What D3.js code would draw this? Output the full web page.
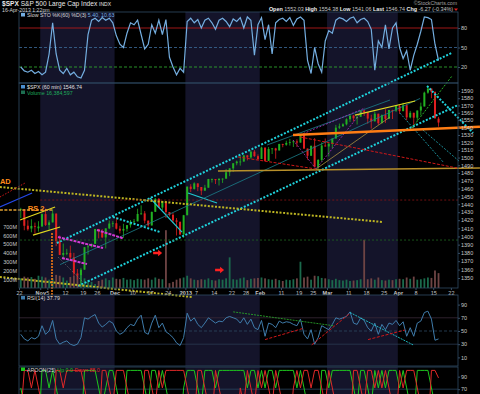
<!DOCTYPE html>
<html>
<head>
<meta charset="utf-8">
<script src="https://cdn.jsdelivr.net/npm/d3@7"></script>
<style>
  body { margin: 0; background: #000; }
  svg { display: block; }
  text { font-family: "Liberation Sans", Arial, sans-serif; }
</style>
</head>
<body>
<div id="chart"></div>
<script>
// daily bars, Oct 22 2012 .. Apr 16 2013 (trading day index 0..118)
var opens = [1433.2,1433.7,1413.2,1409.7,1412.9,1410.0,1412.2,1427.6,1414.0,1417.3,
  1428.3,1394.5,1377.6,1379.9,1380.0,1374.6,1355.4,1353.4,1359.9,1386.8,
  1387.8,1391.0,1409.2,1406.3,1398.8,1409.9,1415.9,1416.3,1409.5,1407.1,
  1409.4,1413.9,1418.1,1418.6,1427.8,1428.5,1419.5,1413.5,1430.5,1446.8,
  1435.8,1443.7,1430.2,1426.7,1419.8,1418.1,1402.4,1426.2,1462.4,1459.4,
  1466.5,1461.9,1457.2,1461.0,1472.1,1472.1,1470.7,1472.3,1472.6,1480.9,
  1485.9,1492.6,1494.8,1494.8,1502.9,1500.2,1507.8,1501.9,1498.1,1513.2,
  1495.7,1511.3,1512.1,1509.4,1517.9,1517.0,1519.4,1520.3,1521.4,1519.8,
  1530.9,1511.9,1502.4,1515.6,1487.9,1496.9,1516.0,1514.7,1518.2,1525.2,
  1539.8,1541.5,1544.3,1551.2,1556.2,1552.5,1554.5,1563.2,1560.7,1552.1,
  1548.3,1558.7,1545.8,1556.9,1551.7,1563.8,1562.9,1569.2,1562.2,1570.3,
  1553.7,1560.0,1553.3,1563.1,1568.6,1587.7,1593.4,1588.9,1552.0];
var highs = [1435.5,1433.7,1420.0,1421.1,1417.1,1418.8,1428.4,1434.3,1419.9,1433.4,
  1428.3,1401.2,1391.4,1384.9,1388.8,1380.1,1360.6,1362.0,1386.9,1389.8,
  1391.3,1409.2,1409.2,1409.0,1410.0,1419.7,1418.9,1423.7,1413.1,1415.6,
  1413.9,1420.3,1421.6,1434.3,1438.6,1431.4,1419.5,1430.7,1448.0,1447.8,
  1443.7,1443.7,1430.2,1429.4,1422.7,1418.1,1426.7,1462.4,1465.5,1467.9,
  1466.5,1461.9,1464.7,1472.3,1472.8,1472.1,1473.3,1473.0,1485.2,1485.9,
  1492.6,1496.1,1502.3,1503.3,1503.2,1509.3,1509.9,1504.2,1514.4,1513.2,
  1514.0,1512.5,1512.9,1518.3,1518.3,1522.3,1524.7,1523.1,1524.2,1530.9,
  1530.9,1511.9,1515.6,1525.8,1498.0,1520.1,1525.3,1520.0,1525.3,1543.5,
  1545.3,1545.8,1552.5,1556.3,1556.8,1556.4,1563.3,1563.6,1560.7,1557.3,
  1561.6,1558.7,1557.7,1564.9,1563.9,1564.1,1570.3,1570.6,1573.7,1571.5,
  1562.6,1560.0,1563.1,1573.9,1589.1,1597.4,1593.4,1588.9,1554.4];
var lows = [1422.8,1407.6,1407.1,1405.1,1403.3,1405.9,1412.2,1412.9,1408.1,1417.3,
  1388.1,1377.5,1373.0,1377.2,1370.8,1352.5,1348.1,1343.4,1359.9,1377.9,
  1386.4,1391.0,1397.7,1398.0,1385.4,1409.0,1411.6,1408.5,1403.6,1398.2,
  1405.9,1410.9,1415.6,1418.6,1426.8,1416.0,1411.9,1413.5,1430.5,1435.8,
  1432.8,1422.6,1424.7,1416.4,1401.1,1401.6,1398.1,1426.2,1455.5,1458.6,
  1456.6,1451.6,1457.2,1461.0,1467.6,1465.7,1463.8,1467.1,1472.6,1475.8,
  1481.2,1489.9,1489.5,1494.8,1496.3,1498.5,1501.0,1496.8,1498.1,1495.0,
  1495.7,1504.7,1498.5,1509.4,1513.6,1515.6,1515.9,1514.0,1514.1,1519.8,
  1511.4,1497.3,1502.4,1487.9,1485.0,1494.9,1514.5,1501.5,1512.3,1525.2,
  1538.1,1541.5,1542.9,1547.4,1548.2,1544.0,1554.5,1555.7,1545.1,1538.6,
  1548.3,1543.6,1545.8,1546.2,1551.7,1551.5,1561.1,1558.5,1562.2,1549.8,
  1552.5,1539.5,1548.6,1556.4,1568.6,1586.2,1580.0,1552.3,1541.1];
var closes = [1433.8,1413.1,1408.8,1412.9,1411.9,1412.2,1427.6,1414.2,1417.3,1428.4,
  1394.5,1377.5,1379.9,1380.0,1374.5,1355.5,1353.3,1359.9,1386.9,1387.8,
  1391.0,1409.2,1406.3,1398.9,1409.9,1415.9,1416.2,1409.5,1407.1,1409.3,
  1413.9,1418.1,1418.5,1427.8,1428.5,1419.5,1413.6,1430.4,1446.8,1435.8,
  1443.7,1430.2,1426.7,1419.8,1418.1,1402.4,1426.2,1462.4,1459.4,1466.5,
  1461.9,1457.2,1461.0,1472.1,1472.1,1470.7,1472.3,1472.6,1480.9,1485.9,
  1492.6,1494.8,1494.8,1502.9,1500.2,1507.8,1501.9,1498.1,1513.2,1495.7,
  1511.3,1512.1,1509.4,1517.9,1517.0,1519.4,1520.3,1521.4,1519.8,1530.9,
  1511.9,1502.4,1515.6,1487.9,1496.9,1516.0,1514.7,1518.2,1525.2,1539.8,
  1541.5,1544.3,1551.2,1556.2,1552.5,1554.5,1563.2,1560.7,1552.1,1548.3,
  1558.7,1545.8,1556.9,1551.7,1563.8,1562.9,1569.2,1562.2,1570.3,1553.7,
  1560.0,1553.3,1563.1,1568.6,1587.7,1593.4,1588.9,1552.4,1546.7];
// hourly volume level per day, millions
var volumes = [110,130,120,125,105,140,130,120,95,110,
  150,140,120,85,125,140,150,170,110,90,
  70,45,80,95,110,90,120,105,100,115,
  95,100,90,105,100,95,110,95,120,105,
  100,660,55,70,95,110,120,140,110,95,
  90,100,95,110,90,85,100,95,110,350,
  100,95,110,120,90,105,110,115,120,110,
  100,95,105,90,80,95,90,100,110,300,
  120,130,95,140,135,115,110,100,90,105,
  90,85,95,80,85,90,100,550,100,110,
  95,120,90,85,95,90,100,105,100,120,
  105,130,95,100,110,120,115,200,170];
var stoK = [20,14,12,15,10,13,8,12,40,88,
  40,15,10,18,8,12,5,3,15,70,
  92,95,90,96,92,95,88,68,55,50,
  72,88,85,92,70,48,55,85,72,92,
  70,93,35,20,8,18,12,90,95,88,
  93,80,92,95,88,78,92,95,90,82,
  94,90,96,80,97,92,38,85,96,62,
  85,40,88,93,95,90,96,84,94,97,
  92,30,10,50,25,12,60,76,72,92,
  96,94,90,95,97,88,93,95,90,78,
  15,60,50,85,48,80,88,50,33,45,
  15,38,55,75,97,96,93,55,30];
var rsi = [45,38,35,40,38,42,58,45,50,66,
  38,30,33,35,30,28,30,40,70,68,
  72,75,62,56,60,65,62,50,45,48,
  55,60,58,68,74,48,45,62,74,55,
  62,49,45,40,32,28,40,77,65,70,
  60,55,62,70,66,62,65,64,70,72,
  70,68,62,70,60,68,55,52,66,42,
  62,60,55,65,62,64,63,60,58,68,
  45,38,52,30,40,58,55,52,60,70,
  68,70,72,79,62,60,70,66,55,50,
  62,45,60,52,62,60,66,58,64,42,
  55,42,62,65,78,80,68,36,38];
var aroonUp = [72,44,16,0,0,0,100,100,72,100,
  72,44,16,0,0,0,0,0,100,100,
  100,100,72,44,72,100,100,72,44,16,
  100,100,100,100,100,72,44,100,100,72,
  100,72,44,16,0,0,72,100,100,100,
  72,44,100,100,100,72,100,100,100,100,
  100,100,100,100,72,100,100,72,100,72,
  100,100,72,100,100,100,100,100,72,100,
  72,44,16,0,0,100,100,72,100,100,
  100,100,100,100,72,44,100,100,72,44,
  100,72,100,72,100,100,100,72,100,72,
  44,16,100,100,100,100,72,44,0];
var aroonDown = [28,100,100,72,100,72,44,16,0,0,
  100,100,72,100,100,100,100,100,72,44,
  16,0,0,100,100,72,44,100,100,100,
  72,44,16,0,0,100,100,72,44,100,
  72,100,100,100,100,100,100,72,44,16,
  100,100,72,44,16,100,72,44,16,0,
  0,0,72,44,100,72,44,100,72,100,
  72,44,100,72,44,16,0,72,100,72,
  100,100,72,100,100,72,44,100,72,44,
  16,0,0,0,100,100,72,44,100,100,
  72,100,72,100,72,44,16,100,72,100,
  100,100,72,44,16,0,100,100,88];

var dateTickDays = [0,6,8,13,18,22,27,32,37,42,47,50,55,60,64,68,74,79,83,87,93,98,103,107,112,117,122];
var dateTickLabels = ["22","Nov","5","12","19","26","Dec","10","17","24","2013","7","14","22","28","Feb","11","19","25","Mar","11","18","25","Apr","8","15","22"];
var boldLabels = ["Nov","Dec","2013","Feb","Mar","Apr"];
var monthBands = [[6,27],[47,68],[87,107]];
var priceTicks = d3.range(1350, 1600, 10);
var volTicks = [100,200,300,400,500,600,700];

// hand-drawn chart annotations, end points as [day, price]
var trendLines = [
  {kind: "cyanDots", pts: [[10.7, 1392], [122.3, 1644]]},
  {kind: "cyanDots", pts: [[16.7, 1340.6], [124.0, 1570.6]]},
  {kind: "cyanDots", pts: [[115.25, 1597], [128.25, 1532.6]]},
  {kind: "cyanDots", pts: [[26.55, 1424.0], [39.83, 1405.4]]},
  {kind: "cyanThin", pts: [[37.0, 1447.9], [46.05, 1405.4]]},
  {kind: "cyanThin", pts: [[47.74, 1454.2], [55.93, 1441.6]]},
  {kind: "tealThin", pts: [[11.6, 1365.9], [113.3, 1579.7]]},
  {kind: "tealThin", pts: [[70.06, 1516.6], [104.8, 1577.5]]},
  {kind: "tealDots", pts: [[107.6, 1559.6], [119.8, 1494.2]]},
  {kind: "tealDots", pts: [[114.1, 1536.6], [124.6, 1494.2]]},
  {kind: "magenta", pts: [[11.02, 1399.3], [23.73, 1385.9]]},
  {kind: "magenta", pts: [[12.15, 1373.9], [19.21, 1366.6]]},
  {kind: "magenta", pts: [[22.03, 1407.9], [29.38, 1397.7]]},
  {kind: "magentaThin", pts: [[77.4, 1523.3], [83.9, 1485.1], [97.18, 1563.7]]},
  {kind: "magentaThin", pts: [[79.38, 1530], [97.74, 1566.5]]},
  {kind: "yellowDots", pts: [[-5.4, 1461.9], [102.8, 1417.8]]},
  {kind: "yellowDots", pts: [[-5.4, 1351.2], [48.9, 1327.7]]},
  {kind: "yellow", pts: [[0.3, 1420.3], [10.2, 1436.5]]},
  {kind: "yellow", pts: [[3.95, 1401.7], [11.6, 1411.6]]},
  {kind: "yellow", pts: [[94.9, 1556.9], [111.9, 1576.1]]},
  {kind: "gold", pts: [[56.2, 1482.5], [130.2, 1486.4]]},
  {kind: "goldThin", pts: [[83.9, 1485.1], [104.8, 1554.2]]},
  {kind: "greenDots", pts: [[111.0, 1539.3], [122.3, 1611]]},
  {kind: "orange", pts: [[77.4, 1530], [130.2, 1541]]},
  {kind: "orangeDash", pts: [[-5.4, 1432.8], [9.6, 1432.8]]},
  {kind: "orangeDots", pts: [[9.32, 1404], [9.32, 1327.7]]},
  {kind: "redDash", pts: [[61.86, 1500.8], [83.9, 1485.1]]},
  {kind: "redDash", pts: [[79.38, 1527.3], [123.73, 1486.4]]},
  {kind: "redDots", pts: [[-5.4, 1449.1], [1.7, 1467]]},
  {kind: "blue", pts: [[-5.4, 1436.5], [3.7, 1454.2]]},
  {kind: "greyDots", pts: [[11.02, 1375.0], [18.08, 1345.3]]},
  {kind: "redLevel", pts: [[6, 1445.3], [124, 1445.3]]},
  {kind: "greenLevel", pts: [[0.3, 1395.6], [124, 1395.6]]}
];
var arrows = [[39.3, 1379.8], [56.8, 1359.5]];
var notes = [{text: "AD", day: -5.4, price: 1469.6}, {text: "RS 2", day: 2.5, price: 1435.3}];
// trend lines on the RSI panel: [day, rsi]
var rsiLines = [
  {kind: "greenDash", pts: [[60.5, 79], [88.8, 58]]},
  {kind: "redDash", pts: [[69.5, 37], [80.3, 54]]},
  {kind: "redDash", pts: [[82.7, 29], [93.5, 77]]},
  {kind: "cyanDash", pts: [[93.5, 78], [111.3, 29]]},
  {kind: "redDash", pts: [[98.6, 37], [109, 51.5]]}
];

var lineStyles = {
  cyanDots: {stroke: "#1fd2dc", width: 2, dash: "2,1.6"},
  cyanThin: {stroke: "#1fc8d0", width: 1.2, dash: null},
  cyanDash: {stroke: "#1fc8d0", width: 0.9, dash: "2,1"},
  tealThin: {stroke: "#1b7f8a", width: 0.8, dash: null},
  tealDots: {stroke: "#1b8f9a", width: 1, dash: "2,1.5"},
  magenta: {stroke: "#d23ad2", width: 2, dash: "3,1"},
  magentaThin: {stroke: "#b030c0", width: 0.8, dash: "2,1.5"},
  yellowDots: {stroke: "#bdb522", width: 2, dash: "2,1.6"},
  yellow: {stroke: "#e0d820", width: 1.2, dash: null},
  gold: {stroke: "#b8902a", width: 1.5, dash: null},
  goldThin: {stroke: "#a89040", width: 0.8, dash: null},
  greenDots: {stroke: "#28b428", width: 1, dash: "2,1.5"},
  greenDash: {stroke: "#28a028", width: 0.9, dash: "2,1"},
  orange: {stroke: "#ff7d14", width: 2.5, dash: null},
  orangeDash: {stroke: "#e0a030", width: 1.6, dash: "3,1.5"},
  orangeDots: {stroke: "#ff7d14", width: 2, dash: "1.5,1.5"},
  redDash: {stroke: "#d01818", width: 1, dash: "3,1.5"},
  redDots: {stroke: "#d01818", width: 1, dash: "1.5,1.5"},
  blue: {stroke: "#2448e8", width: 1.2, dash: null},
  greyDots: {stroke: "#7a7a7a", width: 0.8, dash: "1,1.5"},
  redLevel: {stroke: "#8c1414", width: 0.8, dash: "2,2"},
  greenLevel: {stroke: "#1f6a1f", width: 0.8, dash: "2,2"}
};

var w = 480, h = 394;
var left = 19, right = 458;
var panels = [
  {name: "sto", top: 12, bottom: 83},
  {name: "main", top: 83, bottom: 288},
  {name: "rsi", top: 295, bottom: 366},
  {name: "aroon", top: 367, bottom: 400}
];

var svg = d3.select("#chart")
  .append("svg")
  .attr("width", w)
  .attr("height", h);

svg.append("rect").attr("width", w).attr("height", h).attr("fill", "#000");

var x = d3.scaleLinear().domain([0, 124]).range([left, right]);
var dayW = x(1) - x(0);
function cx(i) { return x(i) + dayW / 2; }

var yPrice = d3.scaleLog().domain([1350, 1590]).range([278, 91]);
var yVol = d3.scaleLinear().domain([0, 700]).range([288, 226.7]);
var ySto = d3.scaleLinear().domain([0, 100]).range([80, 15]);
var yRsi = d3.scaleLinear().domain([0, 100]).range([364, 298]);
var yAroon = d3.scaleLinear().domain([0, 100]).range([433, 370.4]);

// panel clips + month shading
var defs = svg.append("defs");
panels.forEach(function (p) {
  defs.append("clipPath").attr("id", "clip-" + p.name)
    .append("rect")
    .attr("x", left).attr("y", p.top)
    .attr("width", right - left).attr("height", p.bottom - p.top);
  svg.append("g").selectAll("rect")
    .data(monthBands)
    .enter()
    .append("rect")
    .attr("x", function (d) { return x(d[0]); })
    .attr("y", p.top)
    .attr("width", function (d) { return x(d[1]) - x(d[0]); })
    .attr("height", p.bottom - p.top)
    .attr("fill", "#14142a");
});

function styleAxis(g, size) {
  g.select(".domain").remove();
  g.selectAll(".tick line").attr("stroke", "#3a4f66");
  g.selectAll("text").attr("fill", "#c8c8c8").attr("font-size", size || "5.5px")
    .attr("font-family", "Liberation Sans, Arial, sans-serif");
}

// ---- Slow STO panel
var sto = svg.append("g").attr("clip-path", "url(#clip-sto)");
[[80, "#b01818", null], [50, "#35608a", "3,2"], [20, "#2ea02e", "3,2"]].forEach(function (lv) {
  sto.append("line")
    .attr("x1", left).attr("x2", right)
    .attr("y1", ySto(lv[0])).attr("y2", ySto(lv[0]))
    .attr("stroke", lv[1]).attr("stroke-width", 0.9)
    .attr("stroke-dasharray", lv[2]);
});
sto.append("path")
  .datum(stoK)
  .attr("d", d3.line().x(function (d, i) { return cx(i); }).y(function (d) { return ySto(d); }))
  .attr("fill", "none")
  .attr("stroke", "#74aee0")
  .attr("stroke-width", 1.2);

svg.append("g")
  .attr("transform", "translate(" + right + ",0)")
  .call(d3.axisRight(ySto).tickValues([20, 50, 80]).tickSize(2).tickPadding(1))
  .call(styleAxis);

// ---- price panel
var main = svg.append("g");

main.selectAll("rect.vol")
  .data(volumes)
  .enter()
  .append("rect")
  .attr("class", "vol")
  .attr("x", function (d, i) { return cx(i) - 0.9; })
  .attr("y", function (d) { return yVol(d); })
  .attr("width", 1.8)
  .attr("height", function (d) { return yVol(0) - yVol(d); })
  .attr("fill", function (d, i) { return closes[i] >= opens[i] ? "#1b6a4c" : "#6e4444"; });

main.selectAll("line.wick")
  .data(closes)
  .enter()
  .append("line")
  .attr("class", "wick")
  .attr("x1", function (d, i) { return cx(i); })
  .attr("x2", function (d, i) { return cx(i); })
  .attr("y1", function (d, i) { return yPrice(highs[i]); })
  .attr("y2", function (d, i) { return yPrice(lows[i]); })
  .attr("stroke", function (d, i) { return d >= opens[i] ? "#22b022" : "#e02020"; })
  .attr("stroke-width", 0.8);

main.selectAll("rect.body")
  .data(closes)
  .enter()
  .append("rect")
  .attr("class", "body")
  .attr("x", function (d, i) { return cx(i) - 1; })
  .attr("y", function (d, i) { return yPrice(Math.max(d, opens[i])); })
  .attr("width", 2)
  .attr("height", function (d, i) { return Math.max(0.8, Math.abs(yPrice(d) - yPrice(opens[i]))); })
  .attr("fill", function (d, i) { return d >= opens[i] ? "#22b022" : "#e02020"; });

var trendLine = d3.line()
  .x(function (d) { return x(d[0]); })
  .y(function (d) { return yPrice(d[1]); });

svg.append("g").selectAll("path")
  .data(trendLines)
  .enter()
  .append("path")
  .attr("d", function (d) { return trendLine(d.pts); })
  .attr("fill", "none")
  .attr("stroke", function (d) { return lineStyles[d.kind].stroke; })
  .attr("stroke-width", function (d) { return lineStyles[d.kind].width; })
  .attr("stroke-dasharray", function (d) { return lineStyles[d.kind].dash; });

// red arrows
svg.append("g").selectAll("path")
  .data(arrows)
  .enter()
  .append("path")
  .attr("transform", function (d) { return "translate(" + x(d[0]) + "," + yPrice(d[1]) + ")"; })
  .attr("d", "M-5,-1.3 L0,-1.3 L0,-3.2 L4,0 L0,3.2 L0,1.3 L-5,1.3 Z")
  .attr("fill", "#ff2020");

svg.append("g").selectAll("text")
  .data(notes)
  .enter()
  .append("text")
  .attr("x", function (d) { return x(d.day); })
  .attr("y", function (d) { return yPrice(d.price) + 3; })
  .attr("font-size", "7.5px")
  .attr("font-weight", "bold")
  .attr("fill", "#ff8c1a")
  .text(function (d) { return d.text; });

svg.append("g")
  .attr("transform", "translate(" + right + ",0)")
  .call(d3.axisRight(yPrice).tickValues(priceTicks).tickFormat(d3.format("d")).tickSize(2).tickPadding(1))
  .call(styleAxis);

svg.append("g")
  .attr("transform", "translate(" + left + ",0)")
  .call(d3.axisLeft(yVol).tickValues(volTicks).tickFormat(function (d) { return d + "M"; }).tickSize(0).tickPadding(2))
  .call(styleAxis);

var dateAxis = svg.append("g")
  .attr("transform", "translate(0,288)")
  .call(d3.axisBottom(x).tickValues(dateTickDays)
    .tickFormat(function (d, i) { return dateTickLabels[i]; })
    .tickSize(2).tickPadding(1))
  .call(styleAxis);
dateAxis.selectAll("text")
  .attr("font-weight", function (d, i) { return boldLabels.indexOf(dateTickLabels[i]) >= 0 ? "bold" : "normal"; });

// ---- RSI panel
var rp = svg.append("g").attr("clip-path", "url(#clip-rsi)");
[[70, "#3a2a38", null], [50, "#2b4660", "3,2"], [30, "#2a3a50", null]].forEach(function (lv) {
  rp.append("line")
    .attr("x1", left).attr("x2", right)
    .attr("y1", yRsi(lv[0])).attr("y2", yRsi(lv[0]))
    .attr("stroke", lv[1]).attr("stroke-width", 0.8)
    .attr("stroke-dasharray", lv[2]);
});
rp.append("path")
  .datum(rsi)
  .attr("d", d3.line().x(function (d, i) { return cx(i); }).y(function (d) { return yRsi(d); }))
  .attr("fill", "none")
  .attr("stroke", "#3f7cab")
  .attr("stroke-width", 1);
var rsiLine = d3.line().x(function (d) { return x(d[0]); }).y(function (d) { return yRsi(d[1]); });
rp.selectAll("path.tl")
  .data(rsiLines)
  .enter()
  .append("path")
  .attr("class", "tl")
  .attr("d", function (d) { return rsiLine(d.pts); })
  .attr("fill", "none")
  .attr("stroke", function (d) { return lineStyles[d.kind].stroke; })
  .attr("stroke-width", function (d) { return lineStyles[d.kind].width; })
  .attr("stroke-dasharray", function (d) { return lineStyles[d.kind].dash; });

svg.append("g")
  .attr("transform", "translate(" + right + ",0)")
  .call(d3.axisRight(yRsi).tickValues([10, 30, 50, 70, 90]).tickSize(2).tickPadding(1))
  .call(styleAxis);

// ---- Aroon panel
var ap = svg.append("g").attr("clip-path", "url(#clip-aroon)");
ap.append("line")
  .attr("x1", left).attr("x2", right)
  .attr("y1", yAroon(70)).attr("y2", yAroon(70))
  .attr("stroke", "#2b4660").attr("stroke-width", 0.8);
var aroonLine = d3.line().x(function (d, i) { return cx(i); }).y(function (d) { return yAroon(d); });
ap.append("path").datum(aroonUp).attr("d", aroonLine)
  .attr("fill", "none").attr("stroke", "#1ec81e").attr("stroke-width", 1);
ap.append("path").datum(aroonDown).attr("d", aroonLine)
  .attr("fill", "none").attr("stroke", "#e02828").attr("stroke-width", 1);
svg.append("g")
  .attr("transform", "translate(" + right + ",0)")
  .call(d3.axisRight(yAroon).tickValues([70, 90]).tickSize(2).tickPadding(1))
  .call(styleAxis);

// panel borders
panels.forEach(function (p) {
  svg.append("rect")
    .attr("x", left).attr("y", p.top)
    .attr("width", right - left).attr("height", p.bottom - p.top)
    .attr("fill", "none")
    .attr("stroke", "#2f4a63")
    .attr("stroke-width", 0.8);
});

// ---- legends and header
function legend(y, parts, icon) {
  svg.append("rect").attr("x", 21).attr("y", y - 4).attr("width", 4).attr("height", 3.5).attr("fill", icon);
  var t = svg.append("text").attr("x", 27).attr("y", y).attr("font-size", "5.3px");
  parts.forEach(function (p) {
    t.append("tspan").attr("fill", p[1]).text(p[0]);
  });
}
legend(17, [["Slow STO %K(60) %D(3) ", "#d8d8d8"], ["5.40, 10.63", "#74aee0"]], "#74aee0");
legend(89, [["$SPX (60 min) 1546.74", "#e0e0e0"]], "#4a8fd0");
legend(94.5, [["Volume 16,384,597", "#1faa5a"]], "#1d6e50");
legend(300, [["RSI(14) 37.79", "#d8d8d8"]], "#3f7cab");
legend(371.5, [["AROON(25) ", "#d8d8d8"], ["Up 0.0 ", "#1ec81e"], ["Down 88.0", "#e02828"]], "#1ec81e");

var head = svg.append("text").attr("x", 2).attr("y", 6).attr("font-size", "6.6px").attr("fill", "#e8e8e8");
head.append("tspan").attr("font-weight", "bold").text("$SPX");
head.append("tspan").text(" S&P 500 Large Cap Index ");
head.append("tspan").attr("font-size", "5px").text("INDX");
svg.append("text").attr("x", 2).attr("y", 11.5).attr("font-size", "5.2px").attr("fill", "#d0d0d0")
  .text("16-Apr-2013 1:22pm");

svg.append("text").attr("x", 457).attr("y", 5).attr("text-anchor", "end")
  .attr("font-size", "5.2px").attr("fill", "#a0a0a0").text("\u00a9StockCharts.com");

var quote = svg.append("text").attr("x", 453).attr("y", 11.3).attr("text-anchor", "end")
  .attr("font-size", "5.4px").attr("fill", "#c8c8c8");
[["Open", "1552.03"], ["High", "1554.38"], ["Low", "1541.06"], ["Last", "1546.74"], ["Chg", "-6.27 (-0.34%)"]]
  .forEach(function (q, i) {
    quote.append("tspan").attr("font-weight", "bold").attr("fill", "#f0f0f0").text((i ? "  " : "") + q[0] + " ");
    quote.append("tspan").text(q[1]);
  });
svg.append("path")
  .attr("d", "M454,8.5 L458,8.5 L456,11 Z")
  .attr("fill", "#e02020");
</script>
</body>
</html>
